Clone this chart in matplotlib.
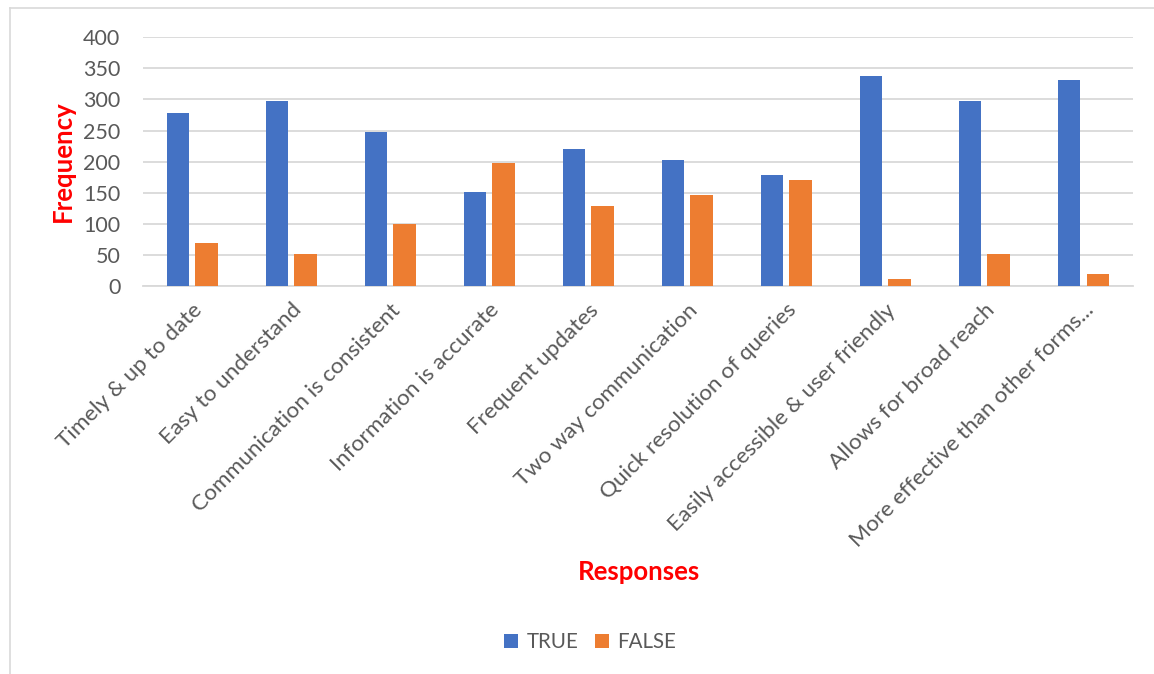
import matplotlib
matplotlib.use("Agg")
from matplotlib import pyplot as plt
from matplotlib.lines import Line2D
import numpy as np

plt.rcParams['font.family'] = ['Lato', 'DejaVu Sans']

# 数据
categories = ["Timely & up to date", "Easy to understand", "Communication is consistent",
              "Information is accurate", "Frequent updates", "Two way communication",
              "Quick resolution of queries", "Easily accessible & user friendly",
              "Allows for broad reach", "More effective than other forms..."]
true_vals = [279, 298, 248, 151, 220, 202, 178, 338, 298, 331]
false_vals = [69, 52, 100, 198, 128, 146, 170, 11, 52, 19]
yticks = [0, 50, 100, 150, 200, 250, 300, 350, 400]

blue = "#4472C4"
orange = "#ED7D31"
grey_txt = "#595959"

fig = plt.figure(figsize=(11.54, 6.74), dpi=100)
ax = fig.add_axes([142.7 / 1154, 1 - 286 / 674, (1133 - 142.7) / 1154, (286 - 37.3) / 674])

x = np.arange(len(categories))
w = 0.225
off = 0.143
ax.bar(x - off, true_vals, w, color=blue, label="TRUE", zorder=3)
ax.bar(x + off, false_vals, w, color=orange, label="FALSE", zorder=3)

ax.set_xlim(-0.5, len(categories) - 0.5)
ax.set_ylim(0, 400)
ax.set_yticks(yticks)
ax.yaxis.grid(True, color="#D9D9D9", linewidth=1.3, zorder=0)
ax.set_axisbelow(True)
for s in ["top", "right", "left"]:
    ax.spines[s].set_visible(False)
ax.spines["bottom"].set_color("#D9D9D9")
ax.spines["bottom"].set_linewidth(1.3)
ax.tick_params(axis="both", length=0, colors=grey_txt, labelsize=15.5)
ax.tick_params(axis="y", pad=16)
ax.set_xticks(x)
ax.set_xticklabels(categories, rotation=45, ha="right", va="top",
                   rotation_mode="anchor", fontsize=16.2)
ax.tick_params(axis="x", pad=10)

fig.text(63 / 1154, 1 - 161 / 674, "Frequency", color="red", fontweight="bold",
         fontsize=18.5, rotation=90, ha="center", va="center")
fig.text(639 / 1154, 1 - 572 / 674, "Responses", color="red", fontweight="bold",
         fontsize=18.5, ha="center", va="center")

fig.legend(loc="center", bbox_to_anchor=(590 / 1154, 1 - 642 / 674), ncol=2,
           frameon=False, fontsize=14.8, labelcolor=grey_txt, handlelength=0.7,
           handleheight=0.7, handletextpad=0.4, columnspacing=0.8)

# 外边框
fig.add_artist(Line2D([10 / 1154, 10 / 1154], [0, 1 - 8 / 674], color="#D9D9D9",
                      linewidth=1.2, transform=fig.transFigure))
fig.add_artist(Line2D([10 / 1154, 1], [1 - 8 / 674, 1 - 8 / 674], color="#D9D9D9",
                      linewidth=1.2, transform=fig.transFigure))

fig.savefig("out.png", dpi=100)
